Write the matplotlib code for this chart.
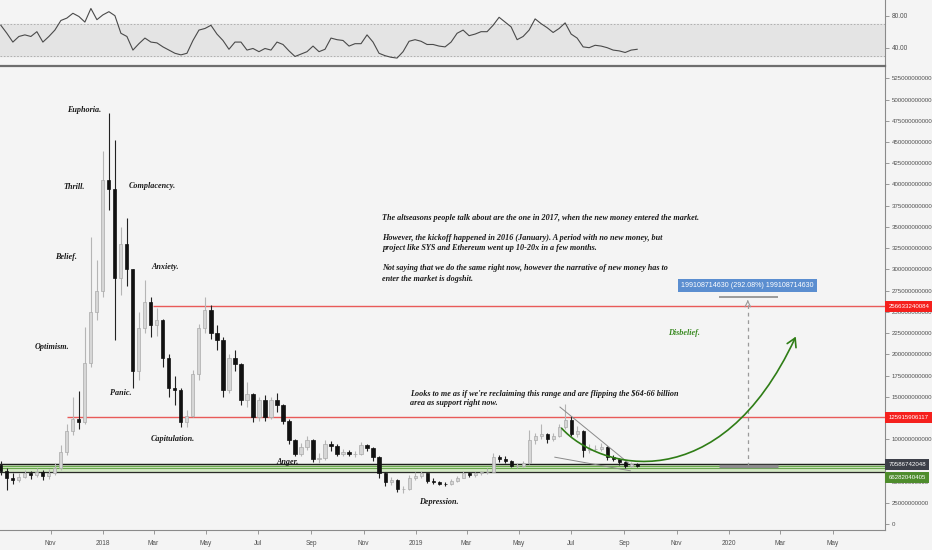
import numpy as np
import pandas as pd
import matplotlib
matplotlib.use("Agg")
import matplotlib.pyplot as plt
import matplotlib.dates as mdates
import matplotlib.transforms as mtransforms
from matplotlib.path import Path
from matplotlib.patches import FancyArrowPatch
from matplotlib.ticker import FixedLocator, FuncFormatter

# weekly candles of the altcoin market cap, in billions of USD
weeks = pd.date_range("2017-09-04", periods=107, freq="7D")
first_open = 70
closes = [63, 55, 52, 56, 60, 58, 62, 57, 60, 66,
          85, 110, 124, 120, 190, 250, 275, 405, 395, 290,
          330, 300, 180, 231, 262, 235, 240, 196, 161, 158,
          120, 128, 177, 231, 252, 225, 217, 158, 196, 189,
          146, 153, 126, 146, 126, 146, 140, 122, 99, 83,
          91, 99, 77, 78, 95, 92, 83, 85, 83, 83,
          93, 90, 79, 60, 50, 52, 41, 41, 55, 57,
          60, 51, 50, 48, 47, 51, 55, 60, 58, 60,
          61, 62, 79, 77, 75, 69, 69, 72, 99, 104,
          106, 100, 104, 114, 123, 106, 110, 87, 89, 89,
          91, 79, 77, 73, 69, 71, 69]
highs = [74, 66, 60, 60, 64, 63, 66, 64, 65, 72,
         93, 118, 150, 157, 232, 338, 311, 440, 484, 452,
         350, 360, 300, 250, 287, 268, 255, 242, 200, 175,
         160, 135, 182, 236, 267, 258, 235, 220, 200, 205,
         190, 168, 155, 150, 152, 150, 155, 142, 124, 100,
         96, 104, 101, 84, 99, 98, 94, 89, 88, 86,
         97, 95, 91, 80, 62, 56, 53, 45, 58, 62,
         63, 60, 54, 51, 50, 53, 57, 63, 62, 62,
         63, 66, 84, 82, 80, 76, 72, 74, 111, 108,
         118, 108, 107, 118, 142, 128, 116, 111, 94, 93,
         96, 92, 82, 78, 74, 73, 72]
lows = [58, 40, 47, 50, 54, 53, 56, 52, 53, 58,
        64, 82, 105, 112, 118, 185, 240, 268, 370, 217,
        270, 280, 161, 170, 225, 220, 222, 185, 150, 140,
        114, 115, 126, 170, 225, 218, 205, 150, 155, 180,
        140, 138, 120, 122, 122, 124, 132, 118, 95, 80,
        80, 88, 73, 72, 76, 86, 80, 80, 80, 79,
        82, 86, 75, 55, 45, 46, 38, 37, 40, 52,
        54, 49, 47, 46, 45, 46, 50, 54, 56, 56,
        58, 59, 62, 73, 72, 67, 66, 67, 71, 95,
        100, 96, 98, 103, 112, 104, 103, 79, 84, 86,
        86, 76, 74, 70, 66, 67, 67]

rsi = [68, 58, 47, 54, 56, 54, 60, 47, 54, 62,
       74, 77, 83, 79, 72, 89, 75, 81, 85, 80,
       58, 54, 37, 45, 52, 47, 46, 41, 37, 33,
       31, 33, 49, 62, 64, 68, 57, 49, 38, 47,
       47, 37, 39, 35, 39, 37, 47, 44, 36, 29,
       32, 35, 42, 35, 38, 52, 50, 49, 42, 45,
       45, 56, 47, 33, 30, 28, 27, 35, 48, 50,
       48, 44, 44, 42, 41, 47, 58, 62, 55, 57,
       60, 60, 68, 78, 72, 66, 50, 54, 62, 76,
       70, 65, 59, 64, 71, 57, 52, 41, 40, 43,
       42, 40, 37, 36, 34, 37, 38]

# horizontal levels (value, start date)
red_levels = [256633240084, 125915906117]
red_starts = ["2018-02-28", "2017-11-20"]
black_level = 70586742048
green_level = 66282040405

# cycle labels (text, date, value in billions)
stage_text = ["Euphoria.", "Thrill.", "Complacency.", "Belief.", "Anxiety.",
              "Optimism.", "Panic.", "Capitulation.", "Anger.", "Depression."]
stage_date = ["2017-12-10", "2017-11-28", "2018-02-27", "2017-11-19", "2018-03-15",
              "2017-11-03", "2018-01-22", "2018-03-24", "2018-08-04", "2019-01-28"]
stage_val = [488, 397, 398, 315, 303, 209, 155, 101, 73, 26]

note_main = ("The altseasons people talk about are the one in 2017, when the new money entered the market.\n\n"
             "However, the kickoff happened in 2016 (January). A period with no new money, but\n"
             "project like SYS and Ethereum went up 10-20x in a few months.\n\n"
             "Not saying that we do the same right now, however the narrative of new money has to\n"
             "enter the market is dogshit.")
note_range = ("Looks to me as if we're reclaiming this range and are flipping the $64-66 billion\n"
              "area as support right now.")

measure_low = 68.17e9
measure_diff = 199108714630
measure_pct = 292.08

bg = "#f4f4f4"
serif = "Liberation Serif"
sans = ["Liberation Sans", "DejaVu Sans"]
txt_size = 5.9

def d(s):
    return mdates.date2num(pd.Timestamp(s))

fig = plt.figure(figsize=(9.32, 5.5), dpi=100, facecolor=bg)
W, H = 932, 550
ax = fig.add_axes([0, 20 / H, 885 / W, 463 / H], facecolor=bg)
ar = fig.add_axes([0, 1 - 66 / H, 885 / W, 66 / H], facecolor=bg, sharex=ax)

x = mdates.date2num(weeks)
c = np.array(closes, float) * 1e9
o = np.concatenate([[first_open], closes[:-1]]).astype(float) * 1e9
hi = np.array(highs, float) * 1e9
lo = np.array(lows, float) * 1e9
up = c >= o

# zone + levels
ax.axhspan(61.5e9, black_level, color="#d3e8c4", zorder=1)
ax.axhline(black_level, color="#1e1e1e", lw=1.0, zorder=2)
ax.axhline(61.5e9, color="#2a2a2a", lw=0.9, zorder=2)
ax.axhline(green_level, color="#6aa84f", lw=0.8, zorder=2)
ax.axhline(68.6e9, color="#6aa84f", lw=0.8, zorder=2)
for lvl, st in zip(red_levels, red_starts):
    ax.hlines(lvl, d(st), d("2020-08-01"), color="#e85a58", lw=1.0, zorder=2)

# candles
ax.vlines(x[up], lo[up], hi[up], color="#b5b5b5", lw=0.8, zorder=3)
ax.vlines(x[~up], lo[~up], hi[~up], color="#222222", lw=0.8, zorder=3)
ax.bar(x[up], (c - o)[up], bottom=o[up], width=3.6, color="#d6d6d6",
       edgecolor="#aaaaaa", lw=0.5, zorder=4)
ax.bar(x[~up], (o - c)[~up], bottom=c[~up], width=3.6, color="#111111",
       edgecolor="#111111", lw=0.5, zorder=4)

# wedge lines on the 2019 pullback
ax.plot([d("2019-06-18"), d("2019-09-06")], [138e9, 72e9], color="#8a8a8a", lw=0.7, zorder=5)
ax.plot([d("2019-06-12"), d("2019-09-08")], [79e9, 63e9], color="#8a8a8a", lw=0.7, zorder=5)

# curved green arrow
p0 = (d("2019-06-20"), 113e9)
p1 = (d("2019-08-03"), 64e9)
p2 = (d("2019-12-21"), 28e9)
p3 = (d("2020-03-19"), 221e9)
path = Path([p0, p1, p2, p3], [Path.MOVETO, Path.CURVE4, Path.CURVE4, Path.CURVE4])
ax.add_patch(FancyArrowPatch(path=path, arrowstyle="->,head_length=0.6,head_width=0.35",
                             mutation_scale=10, color="#2f7d16", lw=1.2, zorder=6))

# measure tool
md = d("2020-01-23")
m1, m2 = d("2019-12-20"), d("2020-02-27")
top = measure_low + measure_diff
ax.vlines(md, measure_low, top - 4e9, color="#9a9a9a", lw=0.9, linestyles=(0, (3, 3)), zorder=5)
ax.annotate("", xy=(md, top), xytext=(md, top - 8e9),
            arrowprops=dict(arrowstyle="->", color="#9a9a9a", lw=0.8))
ax.hlines(top, m1, m2, color="#9a9a9a", lw=1.4, zorder=5)
ax.hlines(measure_low, m1, m2, color="#8c8c8c", lw=2.5, zorder=5)
ax.text(md, top + 14e9, f"{measure_diff} ({measure_pct:.2f}%) {measure_diff}",
        ha="center", va="center", color="white", fontsize=5.1, family=sans,
        bbox=dict(boxstyle="square,pad=0.45", fc="#5b8ed0", ec="none"), zorder=7)

# text
for t, dt, v in zip(stage_text, stage_date, stage_val):
    ax.text(d(dt), v * 1e9, t, ha="center", va="center", fontsize=txt_size,
            family=serif, style="italic", weight="bold", color="#1a1a1a", zorder=7)
ax.text(d("2019-11-10"), 225e9, "Disbelief.", ha="center", va="center", fontsize=txt_size,
        family=serif, style="italic", weight="bold", color="#3a8a22", zorder=7)
ax.text(d("2018-11-23"), 325e9, note_main, ha="left", va="center", fontsize=txt_size,
        family=serif, style="italic", weight="bold", color="#1a1a1a", linespacing=1.35, zorder=7)
ax.text(d("2018-12-25"), 148e9, note_range, ha="left", va="center", fontsize=txt_size,
        family=serif, style="italic", weight="bold", color="#1a1a1a", linespacing=1.3, zorder=7)

# axes
ax.set_xlim(d("2017-09-03"), d("2020-07-01"))
ax.set_ylim(-6.7e9, 538.3e9)
ax.yaxis.tick_right()
ax.yaxis.set_major_locator(FixedLocator(np.arange(0, 526e9, 25e9)))
# the 125000000000 label sits under the red price tag, as in the original
ax.yaxis.set_major_formatter(FuncFormatter(
    lambda v, p: "" if abs(v - 125e9) < 1e9 else f"{int(round(v))}"))
ax.tick_params(axis="y", direction="out", length=3, width=0.6, colors="#8a8a8a",
               labelcolor="#505050", labelsize=4.4, pad=2)
for lab in ax.get_yticklabels():
    lab.set_family(sans)

months = pd.date_range("2017-11-01", "2020-05-01", freq="2MS")
ax.xaxis.set_major_locator(FixedLocator(mdates.date2num(months)))
ax.xaxis.set_major_formatter(FuncFormatter(
    lambda v, p: str(mdates.num2date(v).year) if mdates.num2date(v).month == 1
    else mdates.num2date(v).strftime("%b")))
ax.tick_params(axis="x", direction="out", length=3, width=0.6, colors="#8a8a8a",
               labelcolor="#505050", labelsize=4.7, pad=4)
for lab in ax.get_xticklabels():
    lab.set_family(sans)
for s in ["top", "left"]:
    ax.spines[s].set_visible(False)
ax.spines["right"].set_color("#8a8a8a")
ax.spines["bottom"].set_color("#8a8a8a")
ax.spines["right"].set_linewidth(0.8)
ax.spines["bottom"].set_linewidth(0.8)

# price labels on the scale
blend = mtransforms.blended_transform_factory(ax.transAxes, ax.transData)
lab_vals = [256633240084, 125915906117, 70586742048, 66282040405]
lab_pos = [256.6e9, 125.9e9, 70.6e9, 55.6e9]
lab_cols = ["#f5201d", "#f5201d", "#3d4049", "#4e8c2c"]
for v, yp, col in zip(lab_vals, lab_pos, lab_cols):
    ax.text(1.004, yp, str(v), transform=blend, ha="left", va="center", color="white",
            fontsize=4.4, family=sans, clip_on=False, zorder=10,
            bbox=dict(boxstyle="square,pad=0.5", fc=col, ec="none"))

# RSI pane
ar.axhspan(30, 70, color="#e4e4e4", zorder=0)
ar.axhline(70, color="#a8a8a8", lw=0.6, ls=(0, (2, 2)))
ar.axhline(30, color="#a8a8a8", lw=0.6, ls=(0, (2, 2)))
ar.plot(x, rsi, color="#4a4a4a", lw=0.8)
ar.set_ylim(17.1, 99.6)
ar.yaxis.tick_right()
ar.set_yticks([40, 80])
ar.set_yticklabels(["40.00", "80.00"], family=sans)
ar.tick_params(axis="y", direction="out", length=3, width=0.6, colors="#8a8a8a",
               labelcolor="#505050", labelsize=4.7, pad=2)
ar.tick_params(axis="x", bottom=False, labelbottom=False)
for s in ["top", "left"]:
    ar.spines[s].set_visible(False)
ar.spines["right"].set_color("#8a8a8a")
ar.spines["right"].set_linewidth(0.8)
ar.spines["bottom"].set_color("#6e6e6e")
ar.spines["bottom"].set_linewidth(1.6)

fig.savefig("out.png", dpi=100, facecolor=bg)
